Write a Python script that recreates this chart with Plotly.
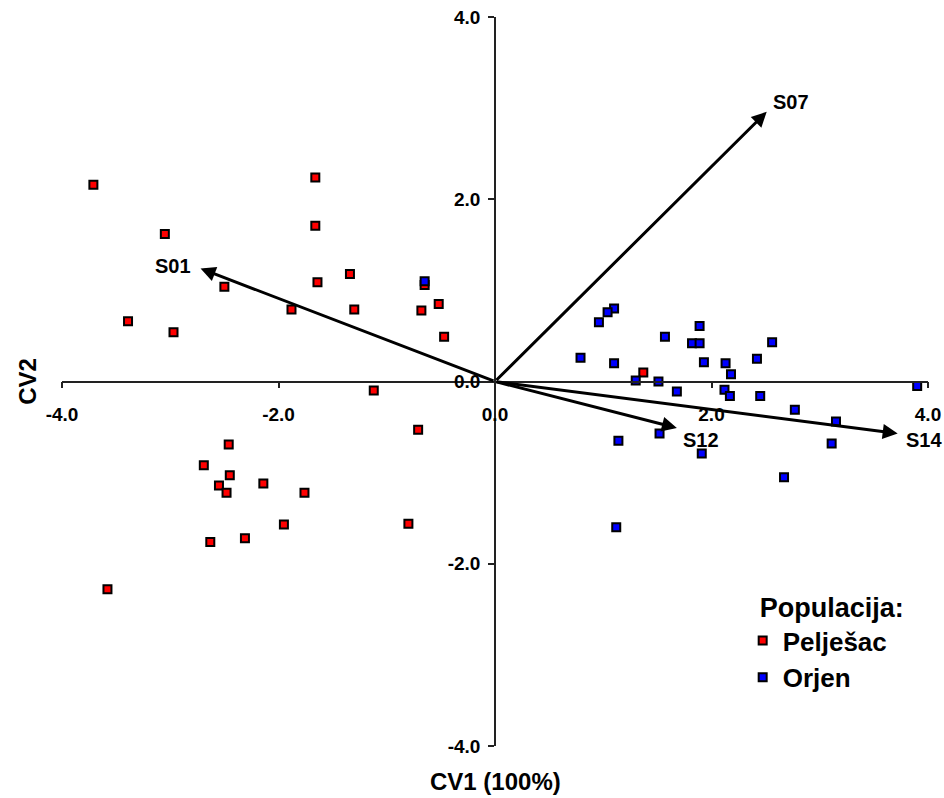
import plotly.graph_objects as go

# Pelješac population (CV1, CV2)
pel_x = [-3.71, -3.05, -2.50, -3.39, -2.97, -1.66, -1.66, -1.64, -1.88, -1.34,
         -1.30, -0.65, -0.52, -0.68, -0.47, -1.12, -0.71, -1.76, -1.95, -0.80,
         -2.46, -2.69, -2.45, -2.55, -2.48, -2.14, -2.63, -2.31, -3.58, 1.37]
pel_y = [2.16, 1.62, 1.04, 0.66, 0.54, 2.24, 1.71, 1.09, 0.79, 1.18,
         0.79, 1.06, 0.85, 0.78, 0.49, -0.10, -0.53, -1.22, -1.57, -1.56,
         -0.69, -0.92, -1.03, -1.14, -1.22, -1.12, -1.76, -1.72, -2.28, 0.10]

# Orjen population (CV1, CV2)
orj_x = [1.10, 1.04, 0.96, 0.79, 1.10, 1.57, 1.89, 1.82, 1.89, 1.93,
         2.13, 2.18, 2.42, 2.56, 1.30, 1.51, 1.68, 2.12, 2.17, 2.45,
         2.77, 3.15, 3.11, 3.90, 1.52, 1.14, 1.91, 2.67, 1.12, -0.65]
orj_y = [0.80, 0.76, 0.65, 0.26, 0.20, 0.49, 0.61, 0.42, 0.42, 0.21,
         0.20, 0.08, 0.25, 0.43, 0.01, 0.00, -0.11, -0.09, -0.16, -0.16,
         -0.31, -0.44, -0.68, -0.05, -0.57, -0.65, -0.79, -1.05, -1.60, 1.10]

# variable vectors
vec_names = ["S01", "S07", "S12", "S14"]
vec_x = [-2.72, 2.51, 1.68, 3.72]
vec_y = [1.24, 2.96, -0.51, -0.57]

ticks = [-4, -2, 0, 2, 4]
tick_text = ["-4.0", "-2.0", "0.0", "2.0", "4.0"]

FONT = "Liberation Sans, Arial, sans-serif"

fig = go.Figure()
fig.add_trace(go.Scatter(
    x=pel_x, y=pel_y, mode="markers", name="Pelješac", legendgroup="a",
    marker=dict(symbol="square", size=8, color="#ff0000",
                line=dict(color="#000000", width=2))))
fig.add_trace(go.Scatter(
    x=orj_x, y=orj_y, mode="markers", name="Orjen", legendgroup="b",
    marker=dict(symbol="square", size=8, color="#0000ff",
                line=dict(color="#000000", width=2))))

label_pos = {"S01": ("right", "middle", -8, 3),
             "S07": ("left", "middle", 4, 10),
             "S12": ("left", "middle", 4, -12),
             "S14": ("left", "middle", 6, -7)}

for n, vx, vy in zip(vec_names, vec_x, vec_y):
    fig.add_annotation(x=vx, y=vy, ax=0, ay=0, xref="x", yref="y",
                       axref="x", ayref="y", showarrow=True, arrowhead=2,
                       arrowsize=1, arrowwidth=3, arrowcolor="#000000", text="")
    xa, ya, dx, dy = label_pos[n]
    fig.add_annotation(x=vx, y=vy, xref="x", yref="y", text="<b>%s</b>" % n,
                       showarrow=False, xanchor=xa, yanchor=ya,
                       xshift=dx, yshift=dy,
                       font=dict(family=FONT, size=20, color="#000000"))

fig.add_annotation(x=0.5, y=-0.049, xref="paper", yref="paper",
                   text="<b>CV1 (100%)</b>", showarrow=False,
                   xanchor="center", yanchor="middle",
                   font=dict(family=FONT, size=24, color="#000000"))
fig.add_annotation(x=-0.04, y=0.5, xref="paper", yref="paper",
                   text="<b>CV2</b>", showarrow=False, textangle=-90,
                   xanchor="center", yanchor="middle",
                   font=dict(family=FONT, size=24, color="#000000"))

axis_common = dict(range=[-4, 4], tickvals=ticks, ticktext=tick_text,
                   showgrid=False, zeroline=False, showline=True,
                   linecolor="#222222", linewidth=1.5, ticks="outside",
                   ticklen=6, tickwidth=1.5, tickcolor="#222222",
                   anchor="free", position=0.5, automargin=False,
                   tickfont=dict(family=FONT, size=19, color="#000000",
                                 weight="bold"))

fig.update_layout(
    width=944, height=798,
    margin=dict(l=62, r=16, t=17, b=52, autoexpand=False),
    plot_bgcolor="white", paper_bgcolor="white",
    xaxis=dict(**axis_common, ticklabelstandoff=10),
    yaxis=dict(**axis_common, ticklabelstandoff=4),
    showlegend=True,
    legend=dict(x=0.786, y=0.225, xanchor="left", yanchor="top",
                bgcolor="rgba(0,0,0,0)", tracegroupgap=0,
                title=dict(text="&nbsp;&nbsp;<b>Populacija:</b>",
                           font=dict(family=FONT, size=27, color="#000000")),
                font=dict(family=FONT, size=26, color="#000000",
                          weight="bold")),
)

fig.write_html("out.html")
